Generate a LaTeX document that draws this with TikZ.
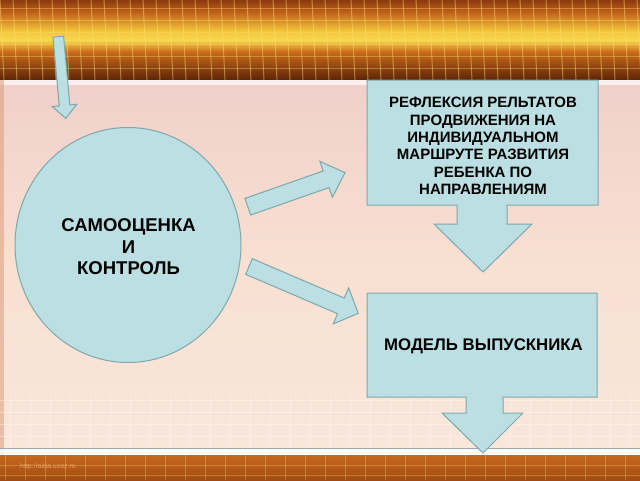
\documentclass[tikz,border=0pt]{standalone}
\usepackage{fontspec}
\setmainfont{Liberation Sans}
\usetikzlibrary{shapes.geometric}
\definecolor{boxfill}{HTML}{BBDFE2}
\definecolor{boxline}{HTML}{7FA7AA}
\definecolor{bandA}{HTML}{8A3A0C}
\definecolor{bandB}{HTML}{C0601A}
\definecolor{bandC}{HTML}{F2C43A}
\definecolor{bandD}{HTML}{F8D850}
\definecolor{bandE}{HTML}{C86A1A}
\definecolor{bandF}{HTML}{5C2406}
\definecolor{panelA}{HTML}{EFD0CA}
\definecolor{panelB}{HTML}{F8E0D2}
\definecolor{panelC}{HTML}{F8E7DB}
\definecolor{lowA}{HTML}{C8681E}
\definecolor{lowB}{HTML}{A04A12}
\definecolor{gridY}{HTML}{FFE070}
\definecolor{wm}{HTML}{E8A060}
\pgfdeclareverticalshading{topband}{100bp}{color(0bp)=(bandF); color(25bp)=(bandF); color(42.5bp)=(bandE); color(50bp)=(bandD); color(56bp)=(bandC); color(67.5bp)=(bandB); color(75bp)=(bandA); color(100bp)=(bandA)}
\pgfdeclareverticalshading{panel}{100bp}{color(0bp)=(panelC); color(25bp)=(panelC); color(50bp)=(panelB); color(75bp)=(panelA); color(100bp)=(panelA)}
\tikzset{
  blueshape/.style={fill=boxfill, draw=boxline, line width=1pt, line join=miter},
  lbl/.style={font=\bfseries, text=black, align=center, inner sep=0pt},
}
\begin{document}
\begin{tikzpicture}[x=1pt,y=-1pt]
\useasboundingbox (0,0) rectangle (640,480);
% ---- background ----
\shade[shading=topband] (0,0) rectangle (640,80);
\foreach \i in {0,13,...,640} \draw[gridY, opacity=.45, line width=1pt] (\i,0) -- (\i+4,80);
\foreach \j in {8,20,...,80} \draw[gridY, opacity=.35, line width=.8pt] (0,\j) -- (640,\j);
\shade[shading=panel] (0,80) rectangle (640,455);
\fill[white, opacity=.7] (0,80) rectangle (640,85);
\fill[brown!60!pink, opacity=.5] (0,80) rectangle (4,455);
\foreach \i in {10,30,...,640} \draw[white, opacity=.35, line width=.8pt] (\i,395) -- (\i,448);
\foreach \j in {400,412,...,448} \draw[white, opacity=.35, line width=.8pt] (0,\j) -- (640,\j);
\fill[white, opacity=.8] (0,448) rectangle (640,455);
\draw[gray!70, line width=.8pt] (0,448) -- (640,448);
\shade[top color=lowA, bottom color=lowB] (0,455) rectangle (640,480);
\foreach \i in {5,25,...,640} \draw[gridY, opacity=.3, line width=.8pt] (\i,455) -- (\i,480);
\foreach \j in {465,475} \draw[gridY, opacity=.3, line width=.8pt] (0,\j) -- (640,\j);
\node[anchor=west, inner sep=0pt, text=wm, font=\fontsize{7}{8}\selectfont] (wmark) at (20,467) {http://aida.ucoz.ru};
% ---- nodes ----
\node[ellipse, blueshape, minimum width=226pt, minimum height=235pt, inner sep=0pt] (self) at (128,245) {};
\node[lbl, font=\bfseries\fontsize{18.5}{21.5}\selectfont] (selft) at (128.5,247) {САМООЦЕНКА\\И\\КОНТРОЛЬ};
\draw[blueshape] (367,80) -- (598,80) -- (598,205) -- (507,205) -- (507,224) -- (532,224) -- (483,272)
  -- (434,224) -- (457,224) -- (457,205) -- (367,205) -- cycle;
\node[lbl, font=\bfseries\fontsize{15}{17.3}\selectfont] (refl) at (483,146)
  {РЕФЛЕКСИЯ РЕЛЬТАТОВ\\ПРОДВИЖЕНИЯ НА\\ИНДИВИДУАЛЬНОМ\\МАРШРУТЕ РАЗВИТИЯ\\РЕБЕНКА ПО\\НАПРАВЛЕНИЯМ};
\draw[blueshape] (367,293) -- (597,293) -- (597,397) -- (503,397) -- (503,413) -- (523,413) -- (483,453)
  -- (442,413) -- (466,413) -- (466,397) -- (367,397) -- cycle;
\node[lbl, font=\bfseries\fontsize{16.8}{19}\selectfont] (model) at (483.5,346) {МОДЕЛЬ ВЫПУСКНИКА};
% ---- arrows ----
\coordinate (a0) at (58.3,36.7);
\coordinate (a1) at (247.8,206.7);
\coordinate (a2) at (249,266.5);
\draw[blueshape, shift={(a0)}, rotate=-84.8] (0,-5.3) -- (69,-5.3) -- (69,-12.3) -- (82,0) -- (69,12.3) -- (69,5.3) -- (0,5.3) -- cycle;
\draw[blueshape, shift={(a1)}, rotate=19.3] (0,-8.8) -- (83,-8.8) -- (83,-19) -- (103,0) -- (83,19) -- (83,8.8) -- (0,8.8) -- cycle;
\draw[blueshape, shift={(a2)}, rotate=-23.2] (0,-8.5) -- (100,-8.5) -- (100,-19.6) -- (118.9,0) -- (100,19.6) -- (100,8.5) -- (0,8.5) -- cycle;
\end{tikzpicture}
\end{document}
